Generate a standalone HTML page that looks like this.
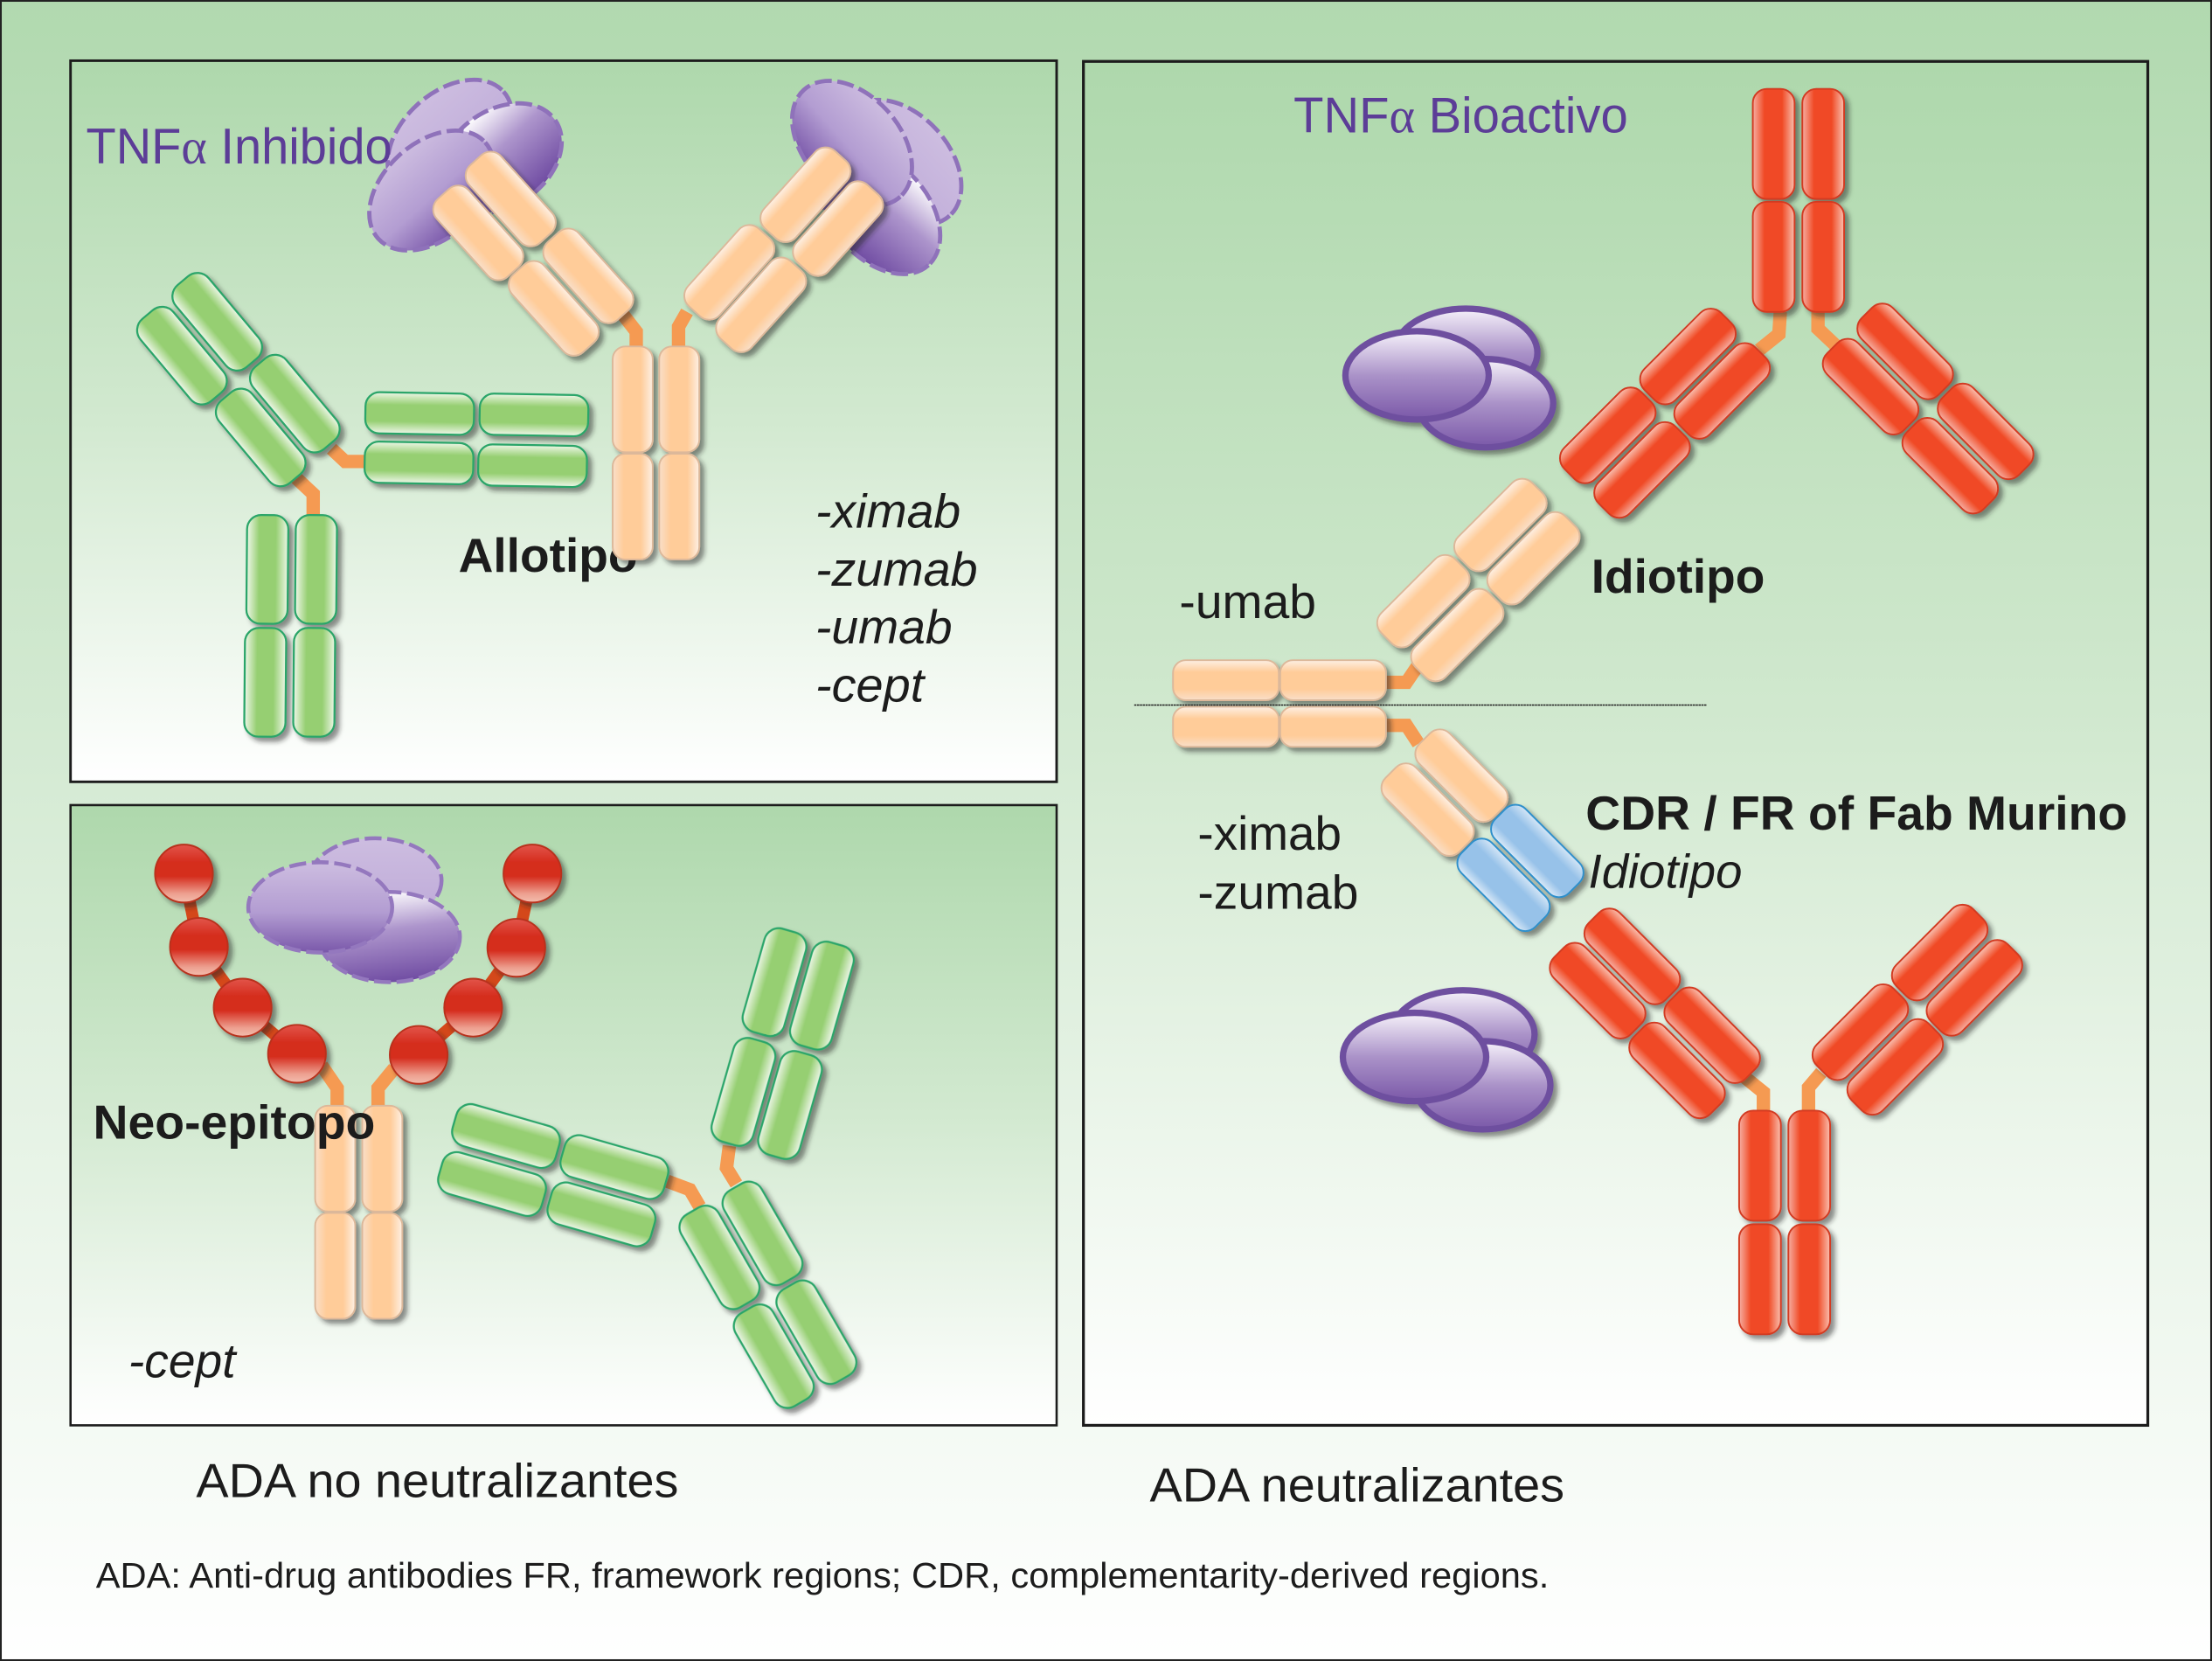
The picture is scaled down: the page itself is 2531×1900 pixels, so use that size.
<!DOCTYPE html>
<html lang="es">
<head>
<meta charset="utf-8">
<title>ADA neutralizantes y no neutralizantes</title>
<style>
html,body{margin:0;padding:0;background:#fff;width:2531px;height:1900px;overflow:hidden}
svg{display:block}
text{font-family:"Liberation Sans",sans-serif;fill:#1c1c1c}
.t{fill:#5c3d97;font-size:35.5px}
.a{font-family:"Liberation Serif",serif;fill:#5c3d97}
.b{font-weight:bold;font-size:34px}
.i{font-style:italic;font-size:34px}
.r{font-size:34px}
</style>
</head>
<body>
<svg xmlns="http://www.w3.org/2000/svg" width="2531" height="1900" viewBox="0 0 1568 1177" preserveAspectRatio="none">
<defs>
<linearGradient id="bg" x1="0" y1="0" x2="0" y2="1"><stop offset="0" stop-color="#b1d9af"/><stop offset="1" stop-color="#ffffff"/></linearGradient>
<linearGradient id="pg" x1="0" y1="0" x2="0" y2="1"><stop offset="0" stop-color="#aed8ac"/><stop offset="0.5" stop-color="#d2e9d0"/><stop offset="1" stop-color="#ffffff"/></linearGradient>
<linearGradient id="go" x1="0" y1="0" x2="0" y2="1"><stop offset="0" stop-color="#fdf0e4"/><stop offset="0.3" stop-color="#ffcc99"/><stop offset="0.72" stop-color="#ffcc99"/><stop offset="1" stop-color="#f9dfc9"/></linearGradient>
<linearGradient id="gg" x1="0" y1="0" x2="0" y2="1"><stop offset="0" stop-color="#edf6e7"/><stop offset="0.3" stop-color="#96cf72"/><stop offset="0.7" stop-color="#96cf72"/><stop offset="1" stop-color="#eff7ea"/></linearGradient>
<linearGradient id="gr" x1="0" y1="0" x2="0" y2="1"><stop offset="0" stop-color="#f9c0b0"/><stop offset="0.3" stop-color="#f04a25"/><stop offset="0.72" stop-color="#f04a25"/><stop offset="1" stop-color="#f6aea2"/></linearGradient>
<linearGradient id="gb" x1="0" y1="0" x2="0" y2="1"><stop offset="0" stop-color="#d5e6f6"/><stop offset="0.3" stop-color="#97c2e9"/><stop offset="0.75" stop-color="#97c2e9"/><stop offset="1" stop-color="#dbeaf8"/></linearGradient>
<linearGradient id="gs" x1="0" y1="0" x2="0" y2="1"><stop offset="0" stop-color="#f6f2fa"/><stop offset="0.5" stop-color="#aa92c8"/><stop offset="1" stop-color="#7a58a8"/></linearGradient>
<linearGradient id="gd" x1="0" y1="0" x2="0" y2="1"><stop offset="0" stop-color="#cdbde0"/><stop offset="0.55" stop-color="#b39dd2"/><stop offset="1" stop-color="#7a58aa"/></linearGradient>
<linearGradient id="gp" x1="0" y1="0" x2="0" y2="1"><stop offset="0" stop-color="#cdbde0"/><stop offset="1" stop-color="#bda9d8"/></linearGradient>
<linearGradient id="gw" x1="0.4" y1="0" x2="0.6" y2="1"><stop offset="0" stop-color="#ffffff"/><stop offset="0.42" stop-color="#ad95cc"/><stop offset="1" stop-color="#6f4ba2"/></linearGradient>
<linearGradient id="gbead" x1="0" y1="0" x2="0" y2="1"><stop offset="0" stop-color="#e2554a"/><stop offset="0.3" stop-color="#d52d1e"/><stop offset="0.55" stop-color="#d52d1e"/><stop offset="0.85" stop-color="#eda090"/><stop offset="1" stop-color="#f3bdae"/></linearGradient>
<filter id="sh" filterUnits="userSpaceOnUse" x="0" y="0" width="1568" height="1177"><feDropShadow dx="3" dy="3" stdDeviation="1.6" flood-color="#222" flood-opacity="0.5"/></filter>
<rect id="o" x="-37" y="-15.2" width="74" height="30.4" rx="10" fill="url(#go)" stroke="#dcb89a" stroke-width="1.2"/>
<rect id="os" x="-37.5" y="-14.2" width="75" height="28.4" rx="9" fill="url(#go)" stroke="#dcb89a" stroke-width="1.2"/>
<rect id="g" x="-38" y="-15.2" width="76" height="30.4" rx="10.5" fill="url(#gg)" stroke="#2aa569" stroke-width="1.4"/>
<rect id="gt" x="-38.5" y="-14.6" width="77" height="29.2" rx="10" fill="url(#gg)" stroke="#2aa569" stroke-width="1.4"/>
<rect id="r" x="-38.5" y="-15.6" width="77" height="31.2" rx="10.5" fill="url(#gr)" stroke="#d23a22" stroke-width="1.2"/>
<rect id="rs" x="-39" y="-14.8" width="78" height="29.6" rx="10" fill="url(#gr)" stroke="#d23a22" stroke-width="1.2"/>
<rect id="u" x="-37" y="-15.2" width="74" height="30.4" rx="10" fill="url(#gb)" stroke="#2d8fcb" stroke-width="1.2"/>
<circle id="bead" r="20.5" fill="url(#gbead)" stroke="#b8301f" stroke-width="1.2"/>
</defs>

<rect x="0.6" y="0.6" width="1566.8" height="1175.8" fill="url(#bg)" stroke="#222" stroke-width="1.3"/>

<rect x="50" y="43" width="699" height="511" fill="url(#pg)" stroke="#1c1c1c" stroke-width="1.8"/>
<rect x="50" y="570.5" width="699" height="439.5" fill="url(#pg)" stroke="#1c1c1c" stroke-width="1.6"/>
<rect x="768" y="43.5" width="754.5" height="966.5" fill="url(#pg)" stroke="#1c1c1c" stroke-width="2"/>

<!-- Panel A: TNF inhibido -->
<g stroke="#8f72ba" stroke-width="3" stroke-dasharray="12 4">
<g>
<ellipse cx="319" cy="99" rx="51" ry="34" transform="rotate(-42 319 99)" fill="url(#gp)"/>
<ellipse cx="355" cy="112" rx="47" ry="34" transform="rotate(-35 355 112)" fill="url(#gw)"/>
<ellipse cx="306" cy="135" rx="51" ry="34" transform="rotate(-42 306 135)" fill="url(#gd)"/>
</g>
<g>
<ellipse cx="639" cy="115" rx="51" ry="34" transform="rotate(48 639 115)" fill="url(#gp)"/>
<ellipse cx="624" cy="150" rx="51" ry="34" transform="rotate(48 624 150)" fill="url(#gw)"/>
<ellipse cx="604" cy="101.5" rx="51" ry="34" transform="rotate(48 604 101.5)" fill="url(#gd)"/>
</g>
</g>
<text class="t" x="61" y="116" textLength="217" lengthAdjust="spacingAndGlyphs">TNF<tspan class="a">α</tspan> Inhibido</text>
<text class="b" x="325" y="405" textLength="127" lengthAdjust="spacingAndGlyphs">Allotipo</text>
<text class="i" x="578" y="374" textLength="103" lengthAdjust="spacingAndGlyphs">-ximab</text>
<text class="i" x="578" y="415" textLength="115" lengthAdjust="spacingAndGlyphs">-zumab</text>
<text class="i" x="578" y="456" textLength="97" lengthAdjust="spacingAndGlyphs">-umab</text>
<text class="i" x="578" y="497" textLength="77" lengthAdjust="spacingAndGlyphs">-cept</text>

<g fill="none" stroke="#f59a52" stroke-width="9.5">
<polyline points="441.7,223 451,235 451,246"/>
<polyline points="487,221 481,231.5 481,246"/>
<polyline points="235,318 244.6,327 259,327"/>
<polyline points="209.6,338.4 222,350 222,366"/>
</g>
<g filter="url(#sh)">
<use href="#os" transform="translate(448.5,283) rotate(90)"/>
<use href="#os" transform="translate(481.5,283) rotate(90)"/>
<use href="#os" transform="translate(448.5,359) rotate(90)"/>
<use href="#os" transform="translate(481.5,359) rotate(90)"/>
<use href="#o" transform="translate(362,141) rotate(48)"/>
<use href="#o" transform="translate(339,165) rotate(48)"/>
<use href="#o" transform="translate(417,195.5) rotate(48)"/>
<use href="#o" transform="translate(392.5,218.5) rotate(48)"/>
<use href="#o" transform="translate(571,138) rotate(-48)"/>
<use href="#o" transform="translate(594,162) rotate(-48)"/>
<use href="#o" transform="translate(517,193) rotate(-48)"/>
<use href="#o" transform="translate(539.5,216) rotate(-48)"/>
</g>
<g filter="url(#sh)">
<use href="#gt" transform="translate(189.5,403.5) rotate(90.5)"/>
<use href="#gt" transform="translate(224,403.5) rotate(90.5)"/>
<use href="#gt" transform="translate(188,483.5) rotate(90.5)"/>
<use href="#gt" transform="translate(222.7,483.5) rotate(90.5)"/>
<use href="#gt" transform="translate(297.5,293) rotate(1)"/>
<use href="#gt" transform="translate(378.5,294) rotate(1)"/>
<use href="#gt" transform="translate(297,328) rotate(1)"/>
<use href="#gt" transform="translate(377.5,330) rotate(1)"/>
<use href="#g" transform="translate(154,228) rotate(50)"/>
<use href="#g" transform="translate(129,252) rotate(50)"/>
<use href="#g" transform="translate(209,286) rotate(50)"/>
<use href="#g" transform="translate(184.8,310) rotate(50)"/>
</g>

<!-- Panel C: neo-epitopo -->
<g stroke="#9478be" stroke-width="2.8" stroke-dasharray="12 4">
<ellipse cx="266" cy="624" rx="47" ry="30" fill="url(#gp)"/>
<ellipse cx="276" cy="664" rx="50" ry="32" fill="url(#gw)"/>
<ellipse cx="227" cy="643" rx="51" ry="32" fill="url(#gd)"/>
</g>
<g fill="none" stroke="#f59a52" stroke-width="9.5">
<polyline points="228,755 239,771 239,784"/>
<polyline points="279.5,757 268,771 268,784"/>
<polyline points="473,837 489,843 496,855"/>
<polyline points="517,812 515,827.6 522,839"/>
</g>
<g fill="none" stroke="#d4481a" stroke-width="8.5">
<polyline points="130.4,619 141,671 172,714 210.5,746.7"/>
<polyline points="296.8,747.5 335.4,714 366,671.6 377.4,619"/>
</g>
<g filter="url(#sh)">
<use href="#bead" x="130.4" y="619"/>
<use href="#bead" x="141" y="671"/>
<use href="#bead" x="172" y="714"/>
<use href="#bead" x="210.5" y="746.7"/>
<use href="#bead" x="296.8" y="747.5"/>
<use href="#bead" x="335.4" y="714"/>
<use href="#bead" x="366" y="671.6"/>
<use href="#bead" x="377.4" y="619"/>
</g>
<g filter="url(#sh)">
<use href="#os" transform="translate(237.6,821) rotate(90)"/>
<use href="#os" transform="translate(271,821) rotate(90)"/>
<use href="#os" transform="translate(237.6,897) rotate(90)"/>
<use href="#os" transform="translate(271,897) rotate(90)"/>
</g>
<g filter="url(#sh)">
<use href="#g" transform="translate(540.5,874) rotate(60)"/>
<use href="#g" transform="translate(510,891) rotate(60)"/>
<use href="#g" transform="translate(578.7,944) rotate(60)"/>
<use href="#g" transform="translate(548.5,961) rotate(60)"/>
<use href="#g" transform="translate(549,696) rotate(-74)"/>
<use href="#g" transform="translate(582.6,705.5) rotate(-74)"/>
<use href="#g" transform="translate(527,773.7) rotate(-74)"/>
<use href="#g" transform="translate(560,783) rotate(-74)"/>
<use href="#g" transform="translate(358.7,805) rotate(16)"/>
<use href="#g" transform="translate(435.5,827) rotate(16)"/>
<use href="#g" transform="translate(348.8,839) rotate(16)"/>
<use href="#g" transform="translate(426.3,860.5) rotate(16)"/>
</g>
<text class="b" x="66" y="807" textLength="200" lengthAdjust="spacingAndGlyphs">Neo-epitopo</text>
<text class="i" x="91" y="976" textLength="76" lengthAdjust="spacingAndGlyphs">-cept</text>

<!-- Panel B: TNF bioactivo -->
<text class="t" x="917" y="94" textLength="237" lengthAdjust="spacingAndGlyphs">TNF<tspan class="a">α</tspan> Bioactivo</text>
<g filter="url(#sh)" stroke="#6e4f9f" stroke-width="4.5" fill="url(#gs)">
<ellipse cx="1039" cy="250" rx="50.8" ry="31.3"/>
<ellipse cx="1053" cy="285.7" rx="48" ry="31.3"/>
<ellipse cx="1004.5" cy="266" rx="50.8" ry="31.3"/>
</g>
<g filter="url(#sh)" stroke="#6e4f9f" stroke-width="4.5" fill="url(#gs)">
<ellipse cx="1037" cy="733" rx="50.8" ry="31.3"/>
<ellipse cx="1051" cy="769" rx="48" ry="31.3"/>
<ellipse cx="1002.7" cy="749" rx="50.8" ry="31.3"/>
</g>
<g fill="none" stroke="#f59a52" stroke-width="9.5">
<polyline points="1262,221 1261,236.7 1247,248"/>
<polyline points="1288.7,221 1288.7,233 1301,244.6"/>
<polyline points="1237,763.5 1250,774 1250,788"/>
<polyline points="1291,760 1282,770.6 1282,788"/>
<polyline points="981,483.5 997,483.5 1005.5,471"/>
<polyline points="981,514 997,514 1005.5,527"/>
</g>
<g filter="url(#sh)">
<use href="#rs" transform="translate(1257.3,102) rotate(90)"/>
<use href="#rs" transform="translate(1292.4,102) rotate(90)"/>
<use href="#rs" transform="translate(1257.3,182) rotate(90)"/>
<use href="#rs" transform="translate(1292.4,182) rotate(90)"/>
<use href="#r" transform="translate(1196.5,252.6) rotate(-45)"/>
<use href="#r" transform="translate(1220.7,277) rotate(-45)"/>
<use href="#r" transform="translate(1139.7,308.5) rotate(-45)"/>
<use href="#r" transform="translate(1164,333) rotate(-45)"/>
<use href="#r" transform="translate(1350.5,249) rotate(45)"/>
<use href="#r" transform="translate(1326,274) rotate(45)"/>
<use href="#r" transform="translate(1407.5,305.7) rotate(45)"/>
<use href="#r" transform="translate(1382.4,330) rotate(45)"/>
</g>
<g filter="url(#sh)">
<use href="#os" transform="translate(869,482)"/>
<use href="#os" transform="translate(945,482)"/>
<use href="#os" transform="translate(869,515)"/>
<use href="#os" transform="translate(945,515)"/>
<use href="#o" transform="translate(1063.6,372) rotate(-45)"/>
<use href="#o" transform="translate(1087,395.6) rotate(-45)"/>
<use href="#o" transform="translate(1009,426) rotate(-45)"/>
<use href="#o" transform="translate(1033,450) rotate(-45)"/>
<use href="#o" transform="translate(1036,549.6) rotate(45)"/>
<use href="#o" transform="translate(1012,573.7) rotate(45)"/>
<use href="#u" transform="translate(1089.7,603) rotate(45)"/>
<use href="#u" transform="translate(1065.8,627) rotate(45)"/>
</g>
<g filter="url(#sh)">
<use href="#rs" transform="translate(1247.6,826) rotate(90)"/>
<use href="#rs" transform="translate(1282.5,826) rotate(90)"/>
<use href="#rs" transform="translate(1247.6,906.5) rotate(90)"/>
<use href="#rs" transform="translate(1282.5,906.5) rotate(90)"/>
<use href="#r" transform="translate(1157,677.7) rotate(45)"/>
<use href="#r" transform="translate(1132.5,702) rotate(45)"/>
<use href="#r" transform="translate(1213.7,733.6) rotate(45)"/>
<use href="#r" transform="translate(1188.8,758.5) rotate(45)"/>
<use href="#r" transform="translate(1375,675) rotate(-45)"/>
<use href="#r" transform="translate(1399.6,700) rotate(-45)"/>
<use href="#r" transform="translate(1318.7,731.4) rotate(-45)"/>
<use href="#r" transform="translate(1343.4,756) rotate(-45)"/>
</g>
<line x1="804" y1="499.6" x2="1209.6" y2="499.6" stroke="#222" stroke-width="0.9" stroke-dasharray="1.6 0.4"/>
<text class="b" x="1128" y="420" textLength="123" lengthAdjust="spacingAndGlyphs">Idiotipo</text>
<text class="r" x="836" y="438" textLength="97" lengthAdjust="spacingAndGlyphs">-umab</text>
<text class="r" x="849" y="602" textLength="102" lengthAdjust="spacingAndGlyphs">-ximab</text>
<text class="r" x="849" y="644" textLength="114" lengthAdjust="spacingAndGlyphs">-zumab</text>
<text class="b" x="1124" y="588" textLength="384" lengthAdjust="spacingAndGlyphs">CDR / FR of Fab Murino</text>
<text class="i" x="1126" y="629" textLength="109" lengthAdjust="spacingAndGlyphs">Idiotipo</text>

<!-- Captions -->
<text x="139" y="1061" font-size="34" textLength="342" lengthAdjust="spacingAndGlyphs">ADA no neutralizantes</text>
<text x="815" y="1064" font-size="34" textLength="294" lengthAdjust="spacingAndGlyphs">ADA neutralizantes</text>
<text x="68" y="1125" font-size="25.5" textLength="1030" lengthAdjust="spacingAndGlyphs">ADA: Anti-drug antibodies FR, framework regions; CDR, complementarity-derived regions.</text>
</svg>
</body>
</html>
